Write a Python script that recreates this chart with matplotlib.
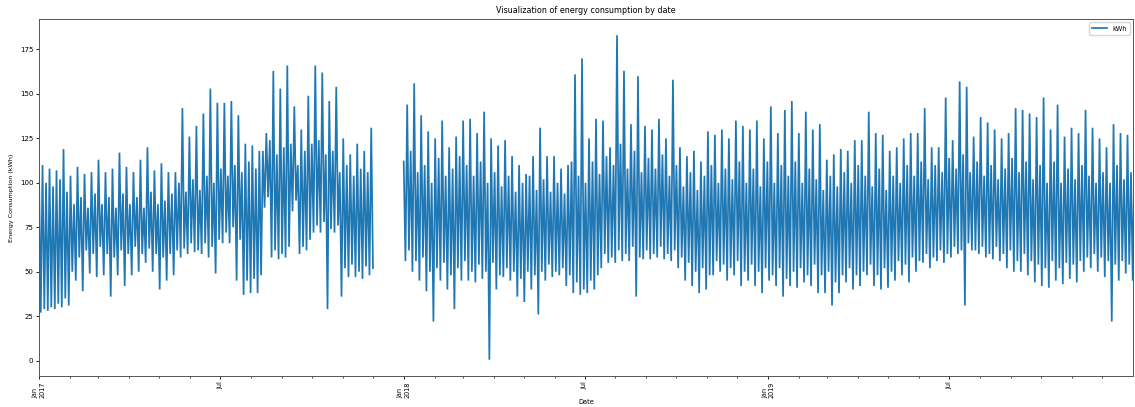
import numpy as np
import pandas as pd
import matplotlib
matplotlib.use("Agg")
import matplotlib.pyplot as plt
import matplotlib.dates as mdates
from matplotlib.ticker import FuncFormatter, MultipleLocator

# weekly readings, first block: 2017-01-01 .. 2017-12-02 (48 weeks)
hi_2017 = [110, 108, 107, 119, 104, 109, 105, 106, 113, 106,
           108, 117, 109, 106, 113, 120, 107, 111, 106, 106,
           142, 126, 132, 139, 153, 145, 145, 146, 138, 122,
           121, 118, 128, 163, 153, 166, 143, 130, 149, 166,
           162, 146, 154, 125, 116, 122, 118, 131]
lo_2017 = [27, 28, 29, 30, 31, 45, 39, 49, 47, 48,
           36, 48, 42, 48, 50, 55, 50, 40, 45, 48,
           58, 60, 61, 60, 58, 49, 66, 66, 45, 37,
           38, 38, 86, 58, 57, 58, 84, 60, 62, 72,
           72, 29, 72, 36, 47, 47, 46, 48]
top_2017 = [104, 100, 98, 102, 95, 88, 92, 86, 94, 88,
            92, 86, 94, 88, 92, 86, 95, 88, 90, 94,
            100, 95, 102, 96, 104, 100, 108, 104, 110, 106,
            112, 108, 118, 124, 116, 120, 122, 110, 118, 122,
            124, 116, 118, 106, 110, 104, 108, 106]
base_2017 = [29, 30, 32, 35, 50, 58, 62, 60, 64, 60,
             58, 62, 60, 64, 60, 63, 60, 58, 60, 62,
             63, 66, 62, 66, 64, 68, 72, 75, 68, 45,
             46, 48, 92, 62, 60, 64, 90, 64, 68, 76,
             78, 74, 76, 52, 54, 50, 53, 52]

# weekly readings, second block: 2018-01-01 .. 2019-12-31 (105 weeks)
hi_1819 = [144, 156, 138, 129, 125, 135, 120, 126, 135, 136,
           128, 140, 125, 121, 124, 115, 110, 105, 115, 131,
           115, 115, 108, 110, 161, 170, 125, 136, 135, 120,
           183, 163, 133, 160, 132, 130, 136, 125, 158, 120,
           115, 118, 112, 129, 127, 130, 125, 135, 132, 130,
           135, 125, 143, 128, 141, 146, 128, 140, 130, 133,
           113, 116, 119, 118, 124, 124, 140, 128, 127, 118,
           120, 125, 128, 128, 142, 120, 120, 148, 124, 157,
           154, 126, 137, 134, 130, 125, 128, 142, 141, 139,
           137, 148, 130, 144, 126, 131, 128, 141, 131, 125,
           120, 133, 128, 127, 118]
lo_1819 = [56, 50, 45, 39, 22, 45, 40, 29, 45, 45,
           44, 46, 0.5, 40, 47, 45, 36, 33, 40, 26,
           45, 47, 48, 42, 38, 37, 38, 40, 52, 55,
           55, 56, 56, 36, 57, 57, 58, 57, 56, 52,
           45, 42, 38, 40, 48, 50, 45, 48, 42, 45,
           42, 38, 45, 42, 36, 42, 41, 44, 42, 38,
           38, 31, 38, 44, 40, 42, 48, 42, 40, 41,
           45, 48, 44, 50, 55, 52, 56, 55, 58, 60,
           31, 62, 60, 58, 57, 56, 52, 50, 50, 48,
           44, 42, 41, 45, 43, 46, 44, 50, 52, 50,
           47, 22, 45, 49, 45]
top_1819 = [112, 118, 106, 110, 100, 114, 104, 108, 115, 110,
            104, 112, 100, 106, 98, 104, 95, 100, 104, 96,
            102, 95, 100, 94, 112, 104, 100, 112, 105, 115,
            110, 122, 108, 118, 106, 114, 108, 116, 104, 110,
            98, 106, 96, 104, 110, 100, 108, 102, 112, 100,
            108, 98, 112, 100, 110, 104, 112, 100, 108, 102,
            96, 104, 98, 106, 100, 110, 104, 98, 108, 96,
            104, 100, 110, 104, 112, 102, 110, 106, 114, 108,
            116, 106, 112, 104, 110, 102, 108, 114, 106, 112,
            102, 110, 100, 112, 100, 108, 102, 110, 104, 100,
            106, 100, 110, 102, 106]
base_1819 = [62, 56, 58, 50, 52, 55, 48, 52, 56, 50,
             54, 50, 55, 48, 52, 50, 46, 50, 48, 50,
             54, 50, 52, 48, 44, 40, 45, 48, 60, 58,
             62, 60, 64, 58, 62, 60, 64, 60, 62, 58,
             55, 50, 52, 48, 56, 54, 52, 56, 50, 54,
             50, 52, 48, 52, 46, 50, 52, 48, 54, 48,
             50, 44, 48, 52, 48, 50, 54, 48, 52, 50,
             56, 54, 58, 56, 60, 58, 62, 60, 64, 62,
             66, 62, 64, 60, 64, 60, 62, 56, 60, 56,
             54, 52, 56, 52, 55, 54, 56, 58, 60, 58,
             56, 54, 56, 54, 55]


def build_block(start, top, lo, hi, base):
    vals = np.column_stack([top, lo, hi, base]).ravel()
    idx = pd.date_range(start, periods=len(vals), freq="42h")
    return pd.Series(vals, index=idx)


s1 = build_block("2017-01-01", top_2017, lo_2017, hi_2017, base_2017)
s2 = build_block("2018-01-01", top_1819, lo_1819, hi_1819, base_1819)
gap = pd.Series([np.nan], index=[pd.Timestamp("2017-12-15")])
kwh = pd.concat([s1, gap, s2])

plt.rcParams["font.family"] = "DejaVu Sans"

fig = plt.figure(figsize=(11.35, 4.07), dpi=100)
ax = fig.add_axes([0.0344, 0.0762, 0.9638, 0.8771])

ax.plot(kwh.index.to_pydatetime(), kwh.values, color="#1f77b4", lw=1.25,
        solid_joinstyle="miter", label="kWh")

ax.set_xlim(pd.Timestamp("2017-01-01"), pd.Timestamp("2019-12-31 23:00"))
ax.yaxis.set_major_locator(MultipleLocator(25))

ax.xaxis.set_major_locator(mdates.MonthLocator(bymonth=[1, 7]))
ax.xaxis.set_minor_locator(mdates.MonthLocator())


def fmt_date(x, pos):
    d = mdates.num2date(x)
    if d.month == 1:
        return "Jan\n%d" % d.year
    return "Jul"


ax.xaxis.set_major_formatter(FuncFormatter(fmt_date))
ax.xaxis.set_minor_formatter(FuncFormatter(lambda x, pos: ""))
for lbl in ax.get_xticklabels():
    lbl.set_rotation(90)
    lbl.set_multialignment("left")

ax.tick_params(axis="y", which="major", labelsize=5.0, length=2.5, width=0.6, pad=1.5)
ax.tick_params(axis="x", which="major", labelsize=4.7, length=2.5, width=0.6, pad=1.5)
ax.tick_params(axis="x", which="minor", length=1.6, width=0.5)
for sp in ax.spines.values():
    sp.set_linewidth(0.7)
    sp.set_color("#555555")

ax.set_title("Visualization of energy consumption by date", fontsize=5.8, pad=4)
ax.set_xlabel("Date", fontsize=4.8, labelpad=1)
ax.set_ylabel("Energy Consumption (kWh)", fontsize=4.6, labelpad=4)
ax.legend(loc="upper right", fontsize=4.7, handlelength=2.2, borderpad=0.5)

fig.savefig("out.png", dpi=100)
